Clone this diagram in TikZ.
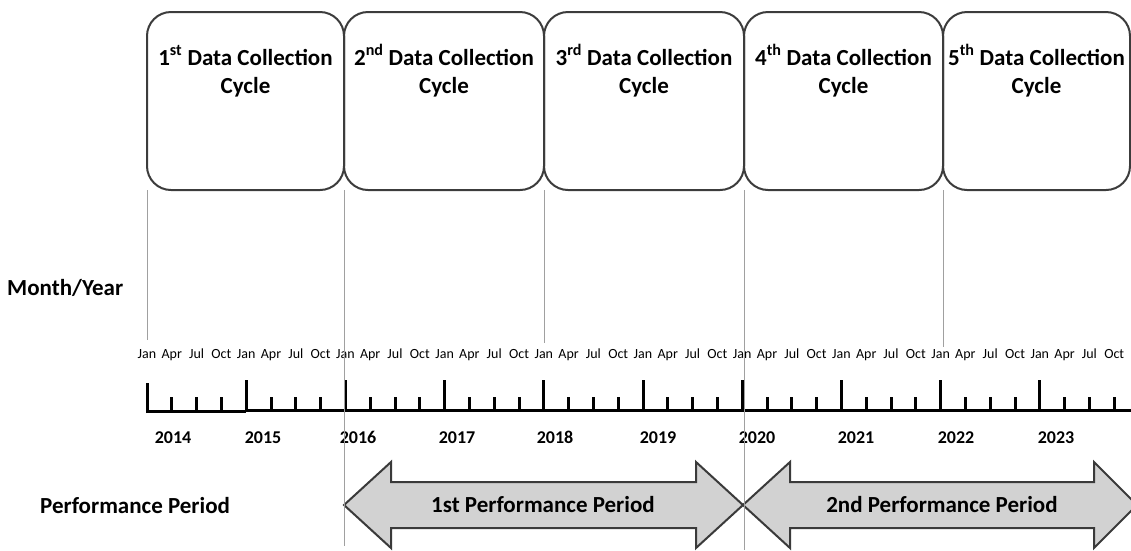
\documentclass[tikz,border=0pt]{standalone}
\usepackage{fontspec}
\setmainfont{Carlito}
\definecolor{boxline}{HTML}{3C3C3C}
\definecolor{guide}{HTML}{A0A0A0}
\definecolor{arrowfill}{HTML}{D2D2D2}
\definecolor{arrowline}{HTML}{3A3A3A}
\begin{document}
\begin{tikzpicture}[x=1pt,y=-1pt,
  cyclebox/.style={draw=boxline, line width=2pt, rounded corners=24pt, inner sep=0pt, outer sep=0pt, minimum height=178pt, anchor=north west},
  titletext/.style={font=\fontsize{23}{27}\selectfont\bfseries, inner sep=0pt, anchor=base},
  guideline/.style={draw=guide, line width=0.9pt},
  axisline/.style={line width=3pt, black},
  monthlbl/.style={font=\fontsize{14}{16}\selectfont, inner sep=0pt, anchor=base},
  yearlbl/.style={font=\fontsize{18}{20}\selectfont\bfseries, inner sep=0pt, anchor=base},
  perfarrow/.style={draw=arrowline, fill=arrowfill, line width=2pt, line join=miter},
  bigtext/.style={font=\fontsize{23}{27}\selectfont\bfseries, inner sep=0pt}]
\useasboundingbox (0,0) rectangle (1131,550);
\clip (0,0) rectangle (1131,550);

% data collection cycle boxes
\node[cyclebox, minimum width=197pt] (c1) at (147,12) {};
\node[cyclebox, minimum width=200pt] (c2) at (344,12) {};
\node[cyclebox, minimum width=200pt] (c3) at (544,12) {};
\node[cyclebox, minimum width=199pt] (c4) at (744,12) {};
\node[cyclebox, minimum width=187pt] (c5) at (943,12) {};

\foreach \b in {c1,c2,c3,c4,c5}{
  \path (\b.north) ++(0,53) coordinate (\b-l1) ++(0,28) coordinate (\b-l2);
}
\node[titletext] (t1a) at (c1-l1) {1\textsuperscript{st} Data Collection};
\node[titletext] (t1b) at (c1-l2) {Cycle};
\node[titletext] (t2a) at (c2-l1) {2\textsuperscript{nd} Data Collection};
\node[titletext] (t2b) at (c2-l2) {Cycle};
\node[titletext] (t3a) at (c3-l1) {3\textsuperscript{rd} Data Collection};
\node[titletext] (t3b) at (c3-l2) {Cycle};
\node[titletext] (t4a) at (c4-l1) {4\textsuperscript{th} Data Collection};
\node[titletext] (t4b) at (c4-l2) {Cycle};
\node[titletext] (t5a) at (c5-l1) {5\textsuperscript{th} Data Collection};
\node[titletext] (t5b) at (c5-l2) {Cycle};

% row labels
\node[bigtext, anchor=west] (my) at (7,288) {Month/Year};
\node[bigtext, anchor=west] (pp) at (40,506) {Performance Period};

% month labels
\foreach \k in {0,...,9}{
  \foreach \m [count=\q from 0] in {Jan,Apr,Jul,Oct}{
    \node[monthlbl] (m-\k-\q) at ({147+99.2*\k+24.8*\q},358) {\m};
  }
}

% timeline axis
\draw[axisline] (147,411.5) -- (246.2,411.5);
\draw[axisline] (246.2,410) -- (1131,410);
\draw[axisline] (147,413) -- (147,383);
\foreach \k in {1,...,9}{
  \draw[axisline] ({147+99.2*\k},411) -- ({147+99.2*\k},380);
}
\foreach \k in {0,...,9}{
  \foreach \q in {1,2,3}{
    \draw[axisline] ({147+99.2*\k+24.8*\q},411) -- ({147+99.2*\k+24.8*\q},397);
  }
}

% year labels
\foreach \yr/\xx [count=\n] in {2014/173,2015/263,2016/358,2017/457,2018/555,2019/658,2020/757,2021/856,2022/956,2023/1056}{
  \node[yearlbl] (y\n) at (\xx,443) {\yr};
}

% performance period arrows
\draw[perfarrow] (344,505) -- (391,462) -- (391,482) -- (696,482) -- (696,462) -- (743,505)
  -- (696,548) -- (696,528) -- (391,528) -- (391,548) -- cycle;
\draw[perfarrow] (743,505) -- (790,462) -- (790,482) -- (1094,482) -- (1094,462) -- (1137,505)
  -- (1094,548) -- (1094,528) -- (790,528) -- (790,548) -- cycle;
\node[bigtext] (p1) at (543,505) {1st Performance Period};
\node[bigtext] (p2) at (942,505) {2nd Performance Period};

% guide lines
\coordinate (g1) at (147,340);
\coordinate (g2) at (344,546);
\coordinate (g3) at (544,343);
\coordinate (g4) at (744,550);
\coordinate (g5) at (943,347);
\draw[guideline] (c1.south west) -- (g1);
\draw[guideline] (c2.south west) -- (g2);
\draw[guideline] (c3.south west) -- (g3);
\draw[guideline] (c4.south west) -- (g4);
\draw[guideline] (c5.south west) -- (g5);
\end{tikzpicture}
\end{document}
